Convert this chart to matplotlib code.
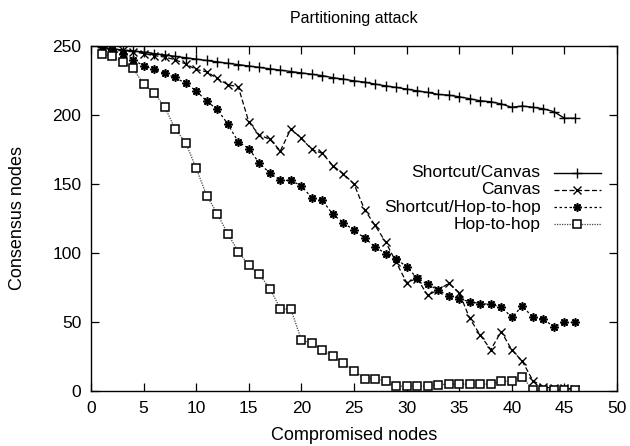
import matplotlib
matplotlib.use("Agg")
import matplotlib.pyplot as plt
from matplotlib.lines import Line2D

plt.rcParams['font.family'] = ['Liberation Sans', 'DejaVu Sans']

x = list(range(1, 47))

shortcut_canvas = [249, 248, 247, 246.5, 245.5, 244.5, 243.5, 242.5, 241.5, 240.5,
                   239.5, 238.5, 237.5, 236.5, 235.5, 234.5, 233.5, 232.5, 231.5, 230.5,
                   229.5, 228.5, 227, 226, 224.7, 223.8, 222.4, 221.1, 220, 218.8,
                   217.5, 216.4, 214.9, 214.4, 213.2, 211.8, 210.3, 209.6, 208, 205.6,
                   206.5, 205.6, 204.5, 202.4, 197.7, 197.7]

canvas = [249, 248, 247, 246, 244.5, 243, 242, 240, 237, 233,
          231.3, 226.5, 222, 220.4, 195, 185.4, 182.5, 174, 190, 183,
          175, 172.2, 163.2, 157.3, 150, 131.5, 120, 108, 93.5, 78.6,
          81.5, 69.4, 73.2, 78, 71.3, 52.6, 40.5, 30, 43, 29.8,
          21.5, 7.6, 2.8, 2, 2, 1.5]

shortcut_h2h = [249, 247.4, 244, 240.2, 235.6, 233, 230.1, 227.2, 222.9, 217.5,
                210, 204.1, 193.5, 180.5, 175.7, 165.1, 157.9, 152.6, 152.6, 148.6,
                139.9, 138.1, 127.9, 122, 116.4, 110.9, 104.5, 99.6, 95.9, 90,
                81.9, 77.3, 73.2, 68.9, 67, 64.6, 63.4, 62.7, 61, 53.3,
                61.7, 53.3, 52.1, 46.5, 49.7, 49.7]

hop_to_hop = [244, 243, 238.2, 233.7, 222.4, 216.1, 206, 189.9, 180, 161.3,
              141.6, 128.5, 113.9, 101, 91.1, 84.5, 74.2, 59.6, 59.3, 36.9,
              34.6, 29.8, 25.2, 20.3, 14.8, 9, 9, 6.9, 3.6, 3.5,
              3.5, 3.5, 4.5, 5, 5, 5, 5, 5, 7.1, 7.1,
              10, 1, 1, 1, 1, 1]

labels = ["Shortcut/Canvas", "Canvas", "Shortcut/Hop-to-hop", "Hop-to-hop"]
xticks = [0, 5, 10, 15, 20, 25, 30, 35, 40, 45, 50]
yticks = [0, 50, 100, 150, 200, 250]

fig = plt.figure(figsize=(6.3, 4.46), dpi=100)
L, R, T, B = 91, 617, 46, 391
ax = fig.add_axes([L/630, 1-B/446, (R-L)/630, (B-T)/446])

styles = [
    dict(linestyle='-', color='black', lw=1.0, marker='+', ms=7, mew=1.0),
    dict(linestyle=(0, (4, 2)), color='black', lw=0.9, marker='x', ms=6, mew=1.0),
    dict(linestyle=(0, (2, 2)), color='black', lw=0.9, marker=(8, 2, 0), ms=6, mew=1.2),
    dict(linestyle=(0, (1, 1)), color='#444444', lw=0.9, marker='s', ms=5.5, mew=1.1,
         mfc='white', mec='black'),
]
series = [shortcut_canvas, canvas, shortcut_h2h, hop_to_hop]
for ys, st in zip(series, styles):
    ax.plot(x, ys, **st)

ax.set_xlim(0, 50)
ax.set_ylim(0, 250)
ax.set_xticks(xticks)
ax.set_yticks(yticks)
ax.tick_params(direction='in', top=True, right=True, length=6, width=0.9,
               labelsize=12.5, pad=7)
for s in ax.spines.values():
    s.set_linewidth(1.0)
ax.set_xlabel("Compromised nodes", fontsize=13)
ax.set_ylabel("Consensus nodes", fontsize=13)
ax.xaxis.set_label_coords(0.5, (B - 436) / (B - T))
ax.xaxis.label.set_va('center')
ax.yaxis.set_label_coords((18 - L) / (R - L), 0.5)
ax.yaxis.label.set_va('center')
ax.set_title("Partitioning attack", fontsize=11.5, y=(B - 19) / (B - T),
             va='center', pad=0)

# legend (gnuplot style: right-aligned text, sample on the right)
text_x = (540.5 - L) / (R - L)
samp_x0 = (554 - L) / (R - L)
samp_x1 = (601 - L) / (R - L)
ys_px = [172.5, 189.8, 207.1, 224.4]
for lab, st, ypx in zip(labels, styles, ys_px):
    ya = (B - ypx) / (B - T)
    ax.text(text_x, ya, lab, transform=ax.transAxes, ha='right', va='center',
            fontsize=12.5)
    ln = Line2D([samp_x0, samp_x1], [ya, ya], transform=ax.transAxes,
                **{k: v for k, v in st.items() if k not in ('marker',)})
    ax.add_line(ln)
    mk = Line2D([(samp_x0 + samp_x1) / 2], [ya], transform=ax.transAxes,
                linestyle='none', **{k: v for k, v in st.items()
                                     if k not in ('linestyle', 'lw')})
    ax.add_line(mk)

fig.savefig("out.png", dpi=100)
